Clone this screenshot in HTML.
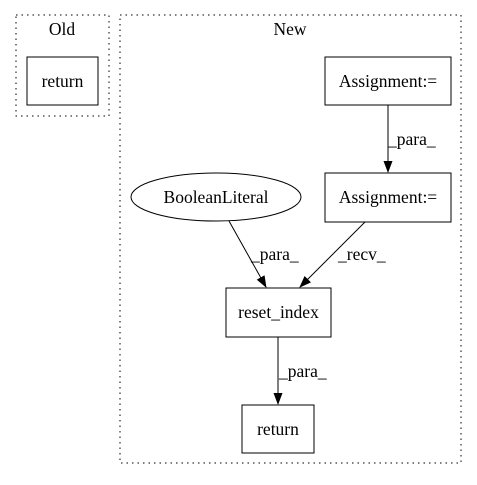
<!DOCTYPE html>
<html><head><style>body{margin:0;background:#fff}</style></head><body>
<svg width="477" height="480" xmlns="http://www.w3.org/2000/svg" font-family="Liberation Serif, serif" font-size="17.5">
<defs><marker id="a" markerWidth="12" markerHeight="12" refX="11" refY="6" orient="auto" markerUnits="userSpaceOnUse"><path d="M0,1.5 L12,6 L0,10.5 z" fill="#000"/></marker></defs>
<rect x="16" y="15" width="93" height="101" fill="none" stroke="#000" stroke-dasharray="1.5,4"/>
<text x="62" y="35" text-anchor="middle">Old</text>
<rect x="27" y="57" width="71" height="48" fill="none" stroke="#000"/>
<text x="62.5" y="87" text-anchor="middle">return</text>
<rect x="120" y="15" width="341" height="448" fill="none" stroke="#000" stroke-dasharray="1.5,4"/>
<text x="290" y="35" text-anchor="middle">New</text>
<rect x="325" y="57" width="126" height="48" fill="none" stroke="#000"/>
<text x="388" y="87" text-anchor="middle">Assignment:=</text>
<rect x="325" y="173" width="126" height="49" fill="none" stroke="#000"/>
<text x="388" y="203" text-anchor="middle">Assignment:=</text>
<ellipse cx="216" cy="197" rx="85" ry="24" fill="none" stroke="#000"/>
<text x="216" y="203" text-anchor="middle">BooleanLiteral</text>
<rect x="226" y="288" width="105" height="49" fill="none" stroke="#000"/>
<text x="278.5" y="318" text-anchor="middle">reset_index</text>
<rect x="242" y="405" width="72" height="48" fill="none" stroke="#000"/>
<text x="278" y="435" text-anchor="middle">return</text>
<line x1="388" y1="105" x2="388" y2="172" stroke="#000" marker-end="url(#a)"/>
<text x="388" y="145">_para_</text>
<line x1="229" y1="221" x2="266" y2="287" stroke="#000" marker-end="url(#a)"/>
<text x="251" y="260">_para_</text>
<line x1="365" y1="222" x2="300" y2="287" stroke="#000" marker-end="url(#a)"/>
<text x="338" y="260">_recv_</text>
<line x1="278" y1="337" x2="278" y2="404" stroke="#000" marker-end="url(#a)"/>
<text x="279" y="377">_para_</text>
</svg>
</body></html>
